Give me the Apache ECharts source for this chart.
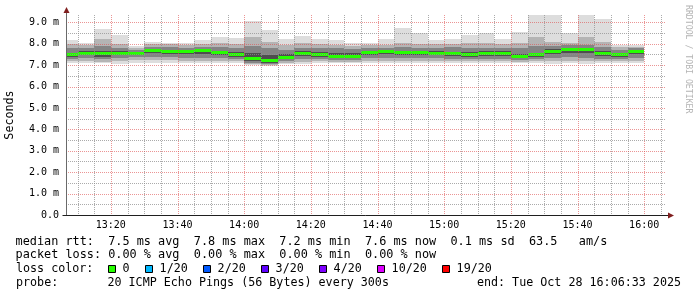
<!DOCTYPE html>
<html><head><meta charset="utf-8">
<script src="https://cdn.jsdelivr.net/npm/echarts@6/dist/echarts.min.js"></script>
<style>html,body{margin:0;padding:0;background:#fff}#c{width:697px;height:297px}</style>
</head><body><div id="c"></div>
<script>
// ---- data (5-minute bins, 20 pings each) ----
const binStart = ['13:05','13:10','13:15','13:20','13:25','13:30','13:35','13:40','13:45','13:50','13:55',
  '14:00','14:05','14:10','14:15','14:20','14:25','14:30','14:35','14:40','14:45','14:50','14:55',
  '15:00','15:05','15:10','15:15','15:20','15:25','15:30','15:35','15:40','15:45','15:50','15:55'];
const binMinutes = 5;
const smokeMax   = [8.17,8.01,8.68,8.42,7.89,8.07,8.04,8.01,8.17,8.29,8.26,9.06,8.64,8.20,8.36,8.20,8.15,8.01,8.01,8.21,8.73,8.48,8.17,8.21,8.42,8.48,8.21,8.54,9.45,9.45,8.50,9.45,9.15,7.92,7.92];
const smokeHigh2 = [8.00,7.93,8.20,8.00,7.82,7.97,7.97,7.95,8.00,8.05,8.00,8.30,8.10,7.95,8.05,7.98,7.95,7.90,7.92,7.95,8.05,8.00,7.98,8.00,8.05,8.02,8.00,8.05,8.30,8.10,8.05,8.30,8.10,7.85,7.85];
const smokeHigh3 = [7.80,7.78,7.90,7.80,7.72,7.85,7.85,7.82,7.85,7.85,7.80,7.90,7.80,7.70,7.80,7.80,7.78,7.75,7.78,7.82,7.85,7.82,7.80,7.85,7.82,7.80,7.80,7.80,7.90,7.90,7.92,7.95,7.85,7.72,7.78];
const smokeHigh4 = [7.58,7.65,7.66,7.65,7.63,7.76,7.72,7.71,7.76,7.65,7.60,7.55,7.45,7.50,7.65,7.60,7.55,7.55,7.66,7.72,7.68,7.68,7.64,7.62,7.60,7.64,7.64,7.50,7.58,7.75,7.80,7.82,7.65,7.58,7.70];
const medianRtt  = [7.48,7.56,7.53,7.56,7.56,7.69,7.65,7.65,7.70,7.58,7.48,7.31,7.21,7.36,7.55,7.48,7.42,7.40,7.58,7.65,7.59,7.59,7.55,7.53,7.50,7.56,7.55,7.40,7.48,7.65,7.73,7.75,7.55,7.50,7.64];
const smokeLow4  = [7.38,7.45,7.40,7.47,7.48,7.55,7.52,7.50,7.50,7.45,7.38,7.20,7.12,7.28,7.42,7.38,7.33,7.32,7.46,7.50,7.48,7.48,7.45,7.42,7.40,7.42,7.42,7.32,7.38,7.50,7.55,7.55,7.42,7.40,7.50];
const smokeLow3  = [7.30,7.32,7.28,7.35,7.36,7.40,7.38,7.35,7.32,7.33,7.28,7.12,7.06,7.20,7.30,7.28,7.25,7.24,7.32,7.35,7.35,7.35,7.33,7.30,7.30,7.30,7.30,7.25,7.28,7.33,7.36,7.35,7.30,7.30,7.35];
const smokeLow2  = [7.20,7.20,7.16,7.20,7.22,7.22,7.22,7.20,7.18,7.20,7.18,7.06,7.02,7.12,7.16,7.18,7.16,7.16,7.18,7.20,7.20,7.20,7.20,7.18,7.18,7.18,7.18,7.16,7.18,7.18,7.20,7.20,7.18,7.18,7.20];
const smokeMin   = [7.10,7.10,7.08,7.06,7.10,7.10,7.12,7.10,7.08,7.10,7.09,7.00,6.98,7.06,7.06,7.10,7.10,7.10,7.10,7.08,7.08,7.08,7.10,7.08,7.08,7.08,7.08,7.08,7.08,7.06,7.08,7.06,7.08,7.10,7.12];

// ---- axes / ticks ----
const viewStart = '13:06:33', viewEnd = '16:06:33';
const yMax = 9.34;
const xLabelTimes = ['13:20','13:40','14:00','14:20','14:40','15:00','15:20','15:40','16:00'];
const xMinorTimes = ['13:10','13:15','13:25','13:30','13:35','13:45','13:50','13:55','14:05','14:10','14:15',
  '14:25','14:30','14:35','14:45','14:50','14:55','15:05','15:10','15:15','15:25','15:30','15:35',
  '15:45','15:50','15:55','16:05'];
const yLabelValues = [0,1,2,3,4,5,6,7,8,9];
const yMinorValues = [0.5,1.5,2.5,3.5,4.5,5.5,6.5,7.5,8.5];

// ---- legend text ----
const statLines = [
  'median rtt:  7.5 ms avg  7.8 ms max  7.2 ms min  7.6 ms now  0.1 ms sd  63.5   am/s',
  'packet loss: 0.00 % avg  0.00 % max  0.00 % min  0.00 % now'
];
const lossLabels = ['0','1/20','2/20','3/20','4/20','10/20','19/20'];
const lossColors = ['#26ff00','#00b8ff','#0059ff','#5e00ff','#7e00ff','#dd00ff','#ff0000'];
const probeText = 'probe:       20 ICMP Echo Pings (56 Bytes) every 300s';
const endText = 'end: Tue Oct 28 16:06:33 2025';

// ---------------------------------------------------------
function toMin(s){ const p = s.split(':').map(Number); return (p[0]-13)*60 + p[1] + (p[2]||0)/60; }
function fmtMin(m){ const h = 13 + Math.floor(m/60), mm = Math.round(m%60); return h + ':' + String(mm).padStart(2,'0'); }

const MONO = '"DejaVu Sans Mono", "Liberation Mono", monospace';
const GRID_MIN = 'rgba(143,143,143,0.75)';
const GRID_MAJ = 'rgba(222,79,79,0.6)';
const ARROW = 'rgb(128,31,31)';

const smokeData = binStart.map((s,i) => {
  const t = toMin(s);
  return [t, t + binMinutes, smokeMin[i], smokeLow2[i], smokeLow3[i], smokeLow4[i], medianRtt[i],
          smokeHigh4[i], smokeHigh3[i], smokeHigh2[i], smokeMax[i]];
});
const layers = [[2,10,'#dddddd'],[3,9,'#b4b4b4'],[4,8,'#848484'],[5,7,'#4e4e4e']];

function clip(r, cs){ return echarts.graphic.clipRectByRect(r, {x:cs.x, y:cs.y, width:cs.width, height:cs.height}); }

const vGridData = xMinorTimes.map(t => [toMin(t), 0, 0]).concat(xLabelTimes.map(t => [toMin(t), 0, 1]));
const hGridData = yMinorValues.map(v => [toMin(viewStart), v, 0]).concat(yLabelValues.filter(v=>v>0).map(v => [toMin(viewStart), v, 1]));

const chart = echarts.init(document.getElementById('c'), null, {renderer:'canvas'});
chart.setOption({
  animation: false,
  backgroundColor: '#fff',
  grid: {left: 66, top: 15, width: 600, height: 200, containLabel: false, outerBoundsMode: 'none'},
  xAxis: {
    type: 'value', min: toMin(viewStart), max: toMin(viewEnd),
    axisLine: {show: false},
    axisTick: {show: false},
    splitLine: {show: false},
    axisLabel: {customValues: xLabelTimes.map(toMin), formatter: v => fmtMin(v), margin: 5,
      fontFamily: MONO, fontSize: 10, color: '#000'}
  },
  yAxis: {
    type: 'value', min: 0, max: yMax,
    name: 'Seconds', nameLocation: 'middle', nameRotate: 90, nameGap: 50,
    nameTextStyle: {fontFamily: MONO, fontSize: 11.7, color: '#000'},
    axisLine: {show: false},
    axisTick: {show: false},
    splitLine: {show: false},
    axisLabel: {customValues: yLabelValues, formatter: v => v === 0 ? '0.0' : v.toFixed(1) + ' m', margin: 7,
      fontFamily: MONO, fontSize: 10, color: '#000'}
  },
  series: [
    {
      type: 'custom', name: 'smoke', data: smokeData, encode: {x: [0,1], y: [2,10]}, z: 2, silent: true,
      renderItem: function(params, api){
        const cs = params.coordSys;
        const x0 = Math.round(api.coord([api.value(0), 0])[0]);
        const x1 = Math.round(api.coord([api.value(1), 0])[0]);
        const children = [];
        layers.forEach(function(L){
          const yTop = Math.round(api.coord([api.value(0), api.value(L[1])])[1]);
          const yBot = Math.round(api.coord([api.value(0), api.value(L[0])])[1]);
          const r = clip({x: x0, y: yTop, width: x1 - x0, height: yBot - yTop}, cs);
          if (r) children.push({type: 'rect', shape: r, style: {fill: L[2]}});
        });
        const ym = api.coord([api.value(0), api.value(6)])[1];
        const rm = clip({x: x0, y: Math.round(ym - 1.5), width: x1 - x0, height: 3}, cs);
        if (rm) children.push({type: 'rect', shape: rm, style: {fill: lossColors[0]}});
        return {type: 'group', children: children};
      }
    },
    {
      type: 'custom', name: 'vgrid', data: vGridData, encode: {x: 0, y: 1}, z: 3, silent: true,
      renderItem: function(params, api){
        const cs = params.coordSys;
        const x = Math.round(api.coord([api.value(0), 0])[0]) + 0.5;
        return {type: 'line', shape: {x1: x, y1: cs.y, x2: x, y2: cs.y + cs.height},
          style: {stroke: api.value(2) ? GRID_MAJ : GRID_MIN, lineWidth: 1, lineDash: [1,1]}};
      }
    },
    {
      type: 'custom', name: 'hgrid', data: hGridData, encode: {x: 0, y: 1}, z: 3, silent: true,
      renderItem: function(params, api){
        const cs = params.coordSys;
        const y = Math.round(api.coord([api.value(0), api.value(1)])[1]) + 0.5;
        return {type: 'line', shape: {x1: cs.x, y1: y, x2: cs.x + cs.width, y2: y},
          style: {stroke: api.value(2) ? GRID_MAJ : GRID_MIN, lineWidth: 1, lineDash: [1,1]}};
      }
    }
  ]
});

// axis lines + arrows placed from the chart's own coordinate conversion
const pLB = chart.convertToPixel({gridIndex: 0}, [toMin(viewStart), 0]);
const pRT = chart.convertToPixel({gridIndex: 0}, [toMin(viewEnd), yMax]);
const axX = Math.round(pLB[0]) + 0.5, axY = Math.round(pLB[1]) + 0.5;
const axRight = Math.round(pRT[0]), axTop = Math.round(pRT[1]);
const axisDecor = [
  {type:'line', silent:true, z:10, shape:{x1:axX, y1:axY, x2:axX, y2:axTop - 2}, style:{stroke:'#6a6a6a', lineWidth:1}},
  {type:'line', silent:true, z:10, shape:{x1:axX - 4, y1:axY, x2:axRight + 3, y2:axY}, style:{stroke:'#1f1f1f', lineWidth:1}},
  {type:'polygon', silent:true, z:11, shape:{points:[[axRight + 2, axY - 3],[axRight + 8, axY],[axRight + 2, axY + 3]]}, style:{fill:ARROW}},
  {type:'polygon', silent:true, z:11, shape:{points:[[axX - 3, axTop - 2],[axX, axTop - 8],[axX + 3, axTop - 2]]}, style:{fill:ARROW}}
];

chart.setOption({graphic: buildLegend().concat(axisDecor)});

function buildLegend(){
  const cw = 7.04, font = '11.7px ' + MONO, fontStat = '11.85px ' + MONO;
  const els = [];
  const lineY = [241.7, 255.2, 269.3, 282.8];
  statLines.forEach((t,i) => els.push({type:'text', x:15.5, y:lineY[i], silent:true,
    style:{text:t, font:fontStat, fill:'#000', align:'left', verticalAlign:'middle'}}));
  els.push({type:'text', x:16, y:lineY[2], silent:true, style:{text:'loss color:', font:font, fill:'#000', align:'left', verticalAlign:'middle'}});
  let bx = 108;
  lossLabels.forEach((lab,i) => {
    els.push({type:'rect', x:0, y:0, silent:true, shape:{x:bx+0.5, y:Math.round(lineY[2]-4)+0.5, width:7, height:7},
      style:{fill:lossColors[i], stroke:'#000', lineWidth:1}});
    const lx = bx + 14.6;
    els.push({type:'text', x:lx, y:lineY[2], silent:true, style:{text:lab, font:font, fill:'#000', align:'left', verticalAlign:'middle'}});
    bx = Math.round(lx + lab.length*cw + 15.2);
  });
  els.push({type:'text', x:16, y:lineY[3], silent:true, style:{text:probeText, font:font, fill:'#000', align:'left', verticalAlign:'middle'}});
  els.push({type:'text', x:681, y:lineY[3], silent:true, style:{text:endText, font:font, fill:'#000', align:'right', verticalAlign:'middle'}});
  els.push({type:'text', x:688, y:5, rotation:-Math.PI/2, silent:true,
    style:{text:'RRDTOOL / TOBI OETIKER', font:'8.2px ' + MONO, fill:'#b4b4b4', align:'left', verticalAlign:'middle'}});
  return els;
}
</script>
</body></html>
